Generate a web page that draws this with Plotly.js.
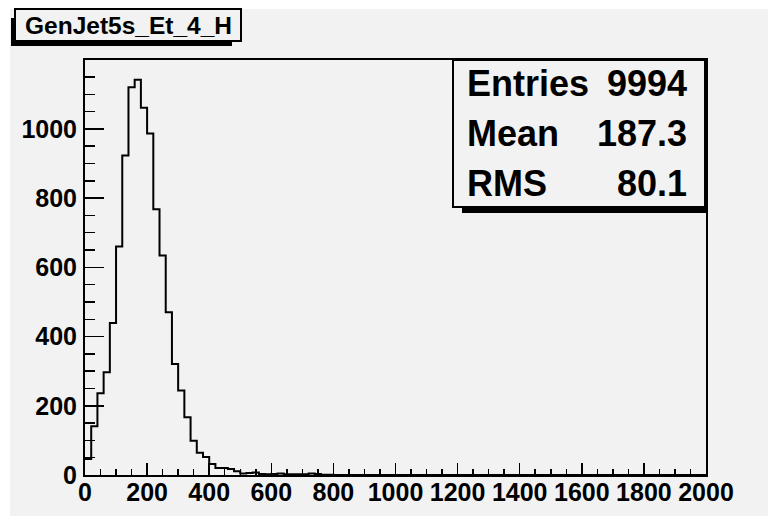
<!DOCTYPE html>
<html>
<head>
<meta charset="utf-8">
<script src="https://cdn.plot.ly/plotly-3.0.1.min.js"></script>
<style>
  html, body { margin: 0; padding: 0; background: #ffffff; }
  #chart { width: 768px; height: 521px; }
</style>
</head>
<body>
<div id="chart"></div>
<script>
// ---- data ----
const histTitle = "GenJet5s_Et_4_H";
const binLow = 0;
const binWidth = 20;
const nBins = 100;
const counts = [
  46, 141, 236, 297, 439, 660, 923, 1120, 1142, 1061,
  987, 768, 634, 470, 321, 244, 167, 99, 64, 52,
  32, 20, 20, 17, 11, 4, 6, 7, 3, 2,
  3, 4, 2, 2, 2, 2, 4, 3, 1, 1,
  0, 0, 0, 0, 0, 0, 0, 0, 0, 0,
  0, 0, 0, 0, 0, 0, 0, 0, 0, 0,
  0, 0, 0, 0, 0, 0, 0, 0, 0, 0,
  0, 0, 0, 0, 0, 0, 0, 0, 0, 0,
  0, 0, 0, 0, 0, 0, 0, 0, 0, 0,
  0, 0, 0, 0, 0, 0, 0, 0, 0, 0
];
const statLabels = ["Entries", "Mean", "RMS"];
const statValues = ["9994", "187.3", "80.1"];
const xTickVals = [0, 200, 400, 600, 800, 1000, 1200, 1400, 1600, 1800, 2000];
const yTickVals = [0, 200, 400, 600, 800, 1000];

// ---- step outline from bin edges ----
const edges = [];
for (let i = 0; i <= nBins; i++) edges.push(binLow + i * binWidth);
const stepY = counts.concat([counts[counts.length - 1]]);

// ---- layout geometry (pixels -> paper) ----
const W = 768, H = 521;
const M = { l: 85, r: 62, t: 60, b: 46 };
const PW = W - M.l - M.r, PH = H - M.t - M.b;
const px = x => (x - M.l) / PW;
const py = y => (H - M.b - y) / PH;
const BG = "#f2f2f2";

function rect(x0, y0, x1, y1, fill, lineW, layer) {
  return {
    type: "rect", xref: "paper", yref: "paper",
    x0: px(x0), x1: px(x1), y0: py(y1), y1: py(y0),
    fillcolor: fill, layer: layer || "above",
    line: { color: "#000000", width: lineW }
  };
}

const shapes = [
  rect(10, 9, 768, 516, BG, 0, "below"),
  // title box with shadow
  rect(11, 18, 232, 46, "#000000", 0),
  rect(15, 9, 241, 41, BG, 2),
  // stats box with shadow
  rect(462, 64, 708, 213, "#000000", 0),
  rect(453, 60, 705, 207, BG, 2)
];

const font = "Liberation Sans";
const annotations = [{
  xref: "paper", yref: "paper", x: px(128.5), y: py(25),
  xanchor: "center", yanchor: "middle", showarrow: false,
  text: histTitle, font: { family: font, size: 24.5, weight: "bold", color: "#000" }
}];
const rowCenters = [83.5, 133.3, 183.3];
statLabels.forEach((lab, i) => {
  annotations.push({
    xref: "paper", yref: "paper", x: px(465), y: py(rowCenters[i]),
    xanchor: "left", yanchor: "middle", showarrow: false,
    text: lab, font: { family: font, size: 36, weight: "bold", color: "#000" }
  });
  annotations.push({
    xref: "paper", yref: "paper", x: px(689), y: py(rowCenters[i]),
    xanchor: "right", yanchor: "middle", showarrow: false,
    text: statValues[i], font: { family: font, size: 36, weight: "bold", color: "#000" }
  });
});

const trace = {
  type: "scatter", mode: "lines",
  x: edges, y: stepY,
  line: { shape: "hv", color: "#000000", width: 2 },
  hoverinfo: "skip"
};

const tickFont = { family: font, size: 25, weight: "bold", color: "#000" };

const layout = {
  width: W, height: H,
  margin: M,
  paper_bgcolor: "#ffffff",
  plot_bgcolor: BG,
  showlegend: false,
  xaxis: {
    range: [0, 2000], tickmode: "array", tickvals: xTickVals,
    ticks: "inside", ticklen: 12, tickwidth: 1.5, tickcolor: "#000",
    minor: { dtick: 50, tick0: 0, ticks: "inside", ticklen: 6, tickwidth: 1.5, tickcolor: "#000", showgrid: false },
    showline: true, linecolor: "#000", linewidth: 2, mirror: true,
    showgrid: false, zeroline: false, tickfont: tickFont, ticklabelstandoff: -6
  },
  yaxis: {
    range: [0, 1199], tickmode: "array", tickvals: yTickVals,
    ticks: "inside", ticklen: 19, tickwidth: 1.5, tickcolor: "#000",
    minor: { dtick: 50, tick0: 0, ticks: "inside", ticklen: 10, tickwidth: 1.5, tickcolor: "#000", showgrid: false },
    showline: true, linecolor: "#000", linewidth: 2, mirror: true,
    showgrid: false, zeroline: false, tickfont: tickFont, ticklabelstandoff: 1
  },
  shapes: shapes,
  annotations: annotations
};

Plotly.newPlot("chart", [trace], layout, { displayModeBar: false, staticPlot: true });
</script>
</body>
</html>
